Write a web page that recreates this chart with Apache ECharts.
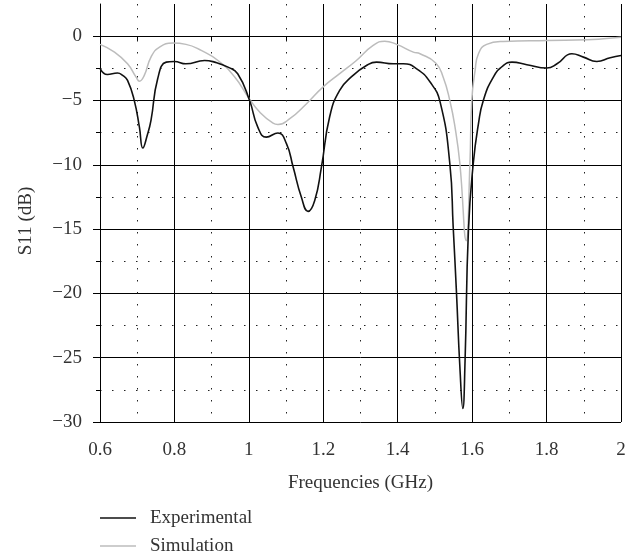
<!DOCTYPE html>
<html>
<head>
<meta charset="utf-8">
<script src="https://cdn.jsdelivr.net/npm/echarts@6/dist/echarts.min.js"></script>
<style>
  html, body { margin: 0; padding: 0; background: #fff; }
  #chart { width: 640px; height: 558px; }
</style>
</head>
<body>
<div id="chart"></div>
<script>
// Measured return loss S11 (dB) versus frequency (GHz)
const freqExperimental = [0.600, 0.620, 0.647, 0.661, 0.674, 0.692, 0.706, 0.715, 0.727, 0.737, 0.755, 0.778, 0.800, 0.831, 0.881, 0.908, 0.944, 0.970, 1.002, 1.024, 1.047, 1.078, 1.101, 1.119, 1.141, 1.159, 1.177, 1.195, 1.217, 1.244, 1.280, 1.316, 1.343, 1.388, 1.415, 1.451, 1.487, 1.514, 1.540, 1.549, 1.558, 1.567, 1.575, 1.581, 1.590, 1.603, 1.617, 1.630, 1.657, 1.684, 1.707, 1.747, 1.801, 1.828, 1.868, 1.899, 1.935, 1.971, 2.000];
const s11Experimental = [-2.5, -2.98, -2.87, -3.05, -3.44, -4.99, -7.1, -8.7, -7.7, -6.55, -3.31, -2.02, -1.97, -2.15, -1.89, -2.02, -2.41, -2.92, -5.0, -7.07, -7.85, -7.53, -8.36, -10.18, -12.51, -13.62, -12.77, -10.18, -6.29, -4.22, -3.05, -2.28, -2.02, -2.15, -2.15, -2.54, -3.57, -5.13, -9.9, -14.8, -20.0, -25.7, -28.95, -25.2, -15.1, -9.9, -6.8, -5.0, -3.18, -2.28, -2.02, -2.22, -2.48, -2.15, -1.37, -1.63, -1.97, -1.68, -1.5];

// Simulated S11 (dB) versus frequency (GHz)
const freqSimulation = [0.600, 0.639, 0.674, 0.697, 0.706, 0.719, 0.737, 0.760, 0.796, 0.831, 0.872, 0.917, 0.962, 1.002, 1.029, 1.065, 1.078, 1.110, 1.155, 1.199, 1.244, 1.289, 1.334, 1.365, 1.397, 1.442, 1.460, 1.502, 1.522, 1.540, 1.554, 1.567, 1.584, 1.594, 1.599, 1.608, 1.617, 1.639, 1.684, 1.801, 1.909, 1.953, 2.000];
const s11Simulation = [-0.64, -1.24, -2.15, -3.18, -3.5, -3.05, -1.63, -0.85, -0.54, -0.64, -1.11, -1.89, -3.18, -4.9, -5.9, -6.76, -6.86, -6.42, -5.25, -3.96, -2.92, -1.89, -0.72, -0.39, -0.64, -1.24, -1.37, -2.08, -3.18, -5.0, -7.07, -9.9, -15.9, -9.9, -5.0, -2.66, -1.37, -0.64, -0.41, -0.33, -0.28, -0.2, -0.08];

// Axis ticks
const freqMajorTicks = [0.6, 0.8, 1.0, 1.2, 1.4, 1.6, 1.8, 2.0];
const freqMinorTicks = [0.7, 0.9, 1.1, 1.3, 1.5, 1.7, 1.9];
const s11MajorTicks = [-30, -25, -20, -15, -10, -5, 0];
const s11MinorTicks = [-27.5, -22.5, -17.5, -12.5, -7.5, -2.5];

const FONT = '"Liberation Serif", "DejaVu Serif", serif';
const TEXT = '#333';
const pairs = (xs, ys) => xs.map((x, i) => [x, ys[i]]);
const minus = v => (v < 0 ? '\u2212' + Math.abs(v) : String(v));

const chart = echarts.init(document.getElementById('chart'), null, { renderer: 'canvas' });
chart.setOption({
  animation: false,
  backgroundColor: '#fff',
  grid: { left: 100, right: 19, top: 4, bottom: 136, containLabel: false },
  legend: {
    orient: 'vertical',
    left: 100,
    top: 508,
    padding: 0,
    height: 50,
    icon: 'rect',
    itemWidth: 36,
    itemHeight: 1.5,
    itemGap: 8,
    textStyle: { fontFamily: FONT, fontSize: 19, lineHeight: 20, color: TEXT, padding: [0, 0, 0, 9] },
    data: ['Experimental', 'Simulation']
  },
  xAxis: [
    {
      type: 'value', position: 'bottom', min: 0.6, max: 2.0, interval: 0.2,
      name: 'Frequencies (GHz)', nameLocation: 'middle', nameGap: 52,
      nameTextStyle: { fontFamily: FONT, fontSize: 19, color: TEXT },
      axisLine: { show: true, lineStyle: { color: '#000', width: 1 } },
      axisTick: { show: true, inside: false, length: 7, lineStyle: { color: '#000' }, customValues: freqMajorTicks },
      axisLabel: { fontFamily: FONT, fontSize: 19, color: TEXT, margin: 19, customValues: freqMajorTicks },
      splitLine: { show: true, lineStyle: { color: '#000', width: 1 } }
    },
    {
      type: 'value', position: 'bottom', min: 0.6, max: 2.0, interval: 0.1,
      axisLine: { show: false },
      axisTick: { show: true, inside: false, length: 4, lineStyle: { color: '#000' }, customValues: freqMinorTicks },
      axisLabel: { show: false },
      splitLine: { show: true, lineStyle: { color: '#222', width: 1, type: [1.5, 10.5] } }
    }
  ],
  yAxis: [
    {
      type: 'value', position: 'left', min: -30, max: 2.5, interval: 5,
      name: 'S11 (dB)', nameLocation: 'middle', nameGap: 64, nameRotate: 90,
      nameTextStyle: { fontFamily: FONT, fontSize: 19, color: TEXT, padding: [0, 16, 0, 0] },
      axisLine: { show: true, lineStyle: { color: '#000', width: 1 } },
      axisTick: { show: true, inside: false, length: 7, lineStyle: { color: '#000' }, customValues: s11MajorTicks },
      axisLabel: { fontFamily: FONT, fontSize: 19, color: TEXT, margin: 18, customValues: s11MajorTicks, formatter: minus },
      splitLine: { show: true, lineStyle: { color: '#000', width: 1 } }
    },
    {
      type: 'value', position: 'left', min: -30, max: 2.5, interval: 2.5,
      axisLine: { show: false },
      axisTick: { show: true, inside: false, length: 4, lineStyle: { color: '#000' }, customValues: s11MinorTicks },
      axisLabel: { show: false },
      splitLine: { show: true, lineStyle: { color: '#222', width: 1, type: [1.5, 10.5] } }
    }
  ],
  series: [
    {
      name: 'Experimental', type: 'line', xAxisIndex: 0, yAxisIndex: 0,
      data: pairs(freqExperimental, s11Experimental),
      symbol: 'none', smooth: 0.5, z: 4,
      lineStyle: { color: '#111', width: 1.6 }, itemStyle: { color: '#111' }
    },
    {
      name: 'Simulation', type: 'line', xAxisIndex: 0, yAxisIndex: 0,
      data: pairs(freqSimulation, s11Simulation),
      symbol: 'none', smooth: 0.5, z: 3,
      lineStyle: { color: '#bcbcbc', width: 1.5 }, itemStyle: { color: '#bcbcbc' }
    }
  ]
});
</script>
</body>
</html>
